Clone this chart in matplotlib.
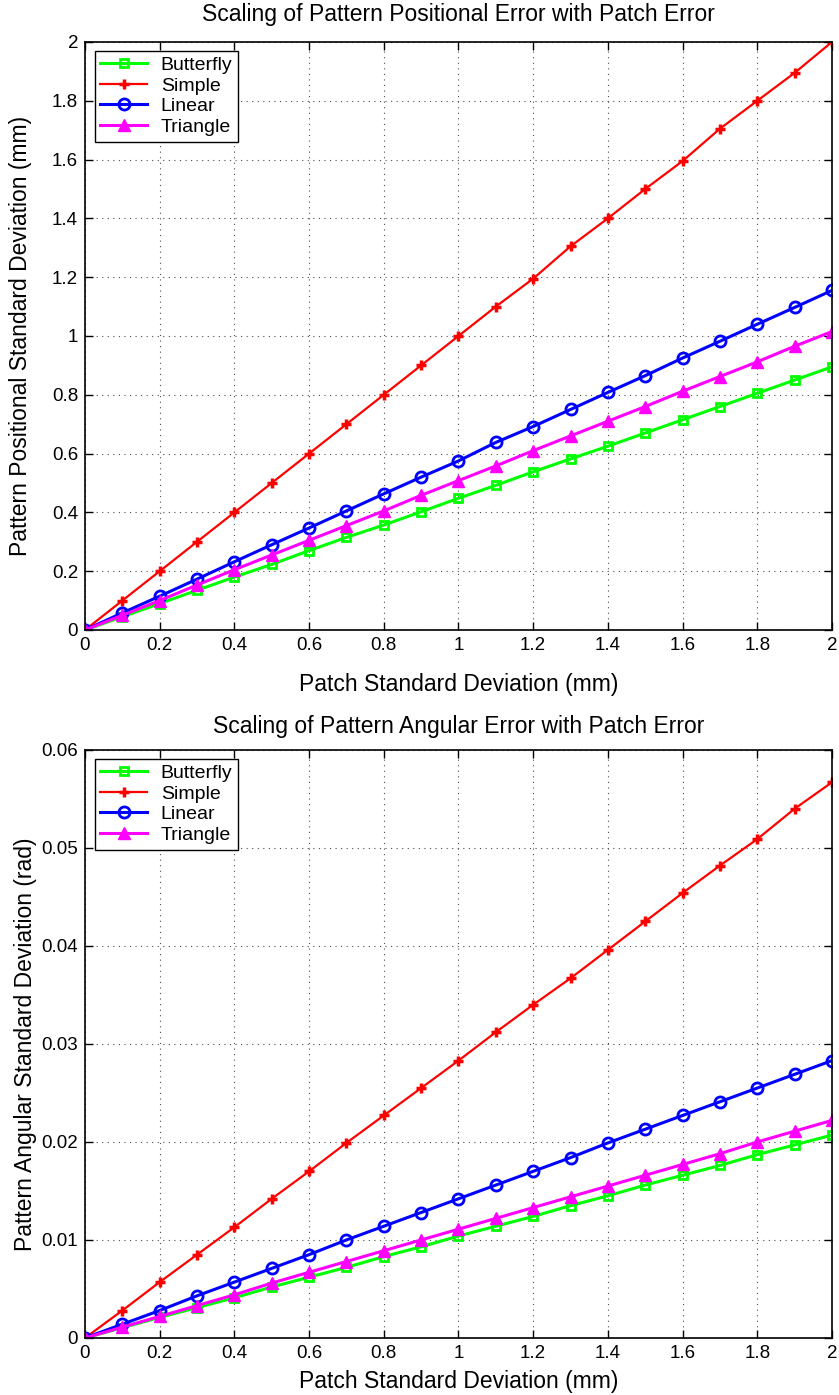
import numpy as np
import matplotlib
matplotlib.use("Agg")
import matplotlib.pyplot as plt

plt.rcParams['font.family'] = ['Liberation Sans', 'DejaVu Sans']
plt.rcParams['font.size'] = 13.5

# patch standard deviation (mm)
patch_sd = [0.0, 0.1, 0.2, 0.3, 0.4, 0.5, 0.6, 0.7, 0.8, 0.9, 1.0,
            1.1, 1.2, 1.3, 1.4, 1.5, 1.6, 1.7, 1.8, 1.9, 2.0]

# positional error (mm)
pos_butterfly = [0, 0.045, 0.09, 0.135, 0.18, 0.223, 0.27, 0.315, 0.357, 0.402, 0.448,
                 0.492, 0.538, 0.582, 0.625, 0.67, 0.715, 0.76, 0.805, 0.85, 0.895]
pos_simple = [0, 0.1, 0.2, 0.3, 0.4, 0.5, 0.6, 0.70, 0.80, 0.90, 1.0,
              1.10, 1.195, 1.305, 1.40, 1.50, 1.595, 1.705, 1.80, 1.895, 2.0]
pos_linear = [0, 0.058, 0.115, 0.173, 0.232, 0.29, 0.347, 0.405, 0.463, 0.52, 0.575,
              0.638, 0.692, 0.75, 0.808, 0.865, 0.925, 0.982, 1.04, 1.097, 1.155]
pos_triangle = [0, 0.05, 0.10, 0.153, 0.205, 0.255, 0.305, 0.355, 0.405, 0.458, 0.508,
                0.558, 0.61, 0.66, 0.71, 0.76, 0.812, 0.862, 0.912, 0.965, 1.015]

# angular error (rad)
ang_butterfly = [0, 0.00105, 0.0021, 0.0031, 0.0041, 0.0052, 0.0062, 0.0072, 0.0083, 0.0093, 0.0104,
                 0.0114, 0.0124, 0.0135, 0.0145, 0.0156, 0.0166, 0.0176, 0.0187, 0.0197, 0.0207]
ang_simple = [0, 0.0028, 0.0057, 0.0085, 0.0113, 0.0142, 0.017, 0.0199, 0.0227, 0.0255, 0.0283,
              0.0312, 0.034, 0.0367, 0.0396, 0.0425, 0.0454, 0.0482, 0.0509, 0.054, 0.0567]
ang_linear = [0, 0.0014, 0.0028, 0.0043, 0.0057, 0.0071, 0.0085, 0.0100, 0.0114, 0.0128, 0.0142,
              0.0156, 0.0170, 0.0184, 0.0199, 0.0213, 0.0227, 0.0241, 0.0255, 0.0269, 0.0283]
ang_triangle = [0, 0.0011, 0.0022, 0.0033, 0.0044, 0.0056, 0.0067, 0.0078, 0.0089, 0.0100, 0.0111,
                0.0122, 0.0133, 0.0144, 0.0155, 0.0166, 0.0177, 0.0188, 0.0200, 0.0211, 0.0222]

x_ticks = [0, 0.2, 0.4, 0.6, 0.8, 1, 1.2, 1.4, 1.6, 1.8, 2]
x_labels = ["0", "0.2", "0.4", "0.6", "0.8", "1", "1.2", "1.4", "1.6", "1.8", "2"]
pos_yticks = [0, 0.2, 0.4, 0.6, 0.8, 1, 1.2, 1.4, 1.6, 1.8, 2]
pos_ylabels = ["0", "0.2", "0.4", "0.6", "0.8", "1", "1.2", "1.4", "1.6", "1.8", "2"]
ang_yticks = [0, 0.01, 0.02, 0.03, 0.04, 0.05, 0.06]
ang_ylabels = ["0", "0.01", "0.02", "0.03", "0.04", "0.05", "0.06"]


def draw(ax, butterfly, simple, linear, triangle, yticks, ylabels, title, ylabel,
         xpad, ypad, tpad):
    ax.plot(patch_sd, butterfly, color='#00ff00', lw=2.2, marker='s', ms=6,
            mfc='none', mew=2, label='Butterfly')
    ax.plot(patch_sd, simple, color='#ff0000', lw=1.6, marker='+', ms=7,
            mew=2.5, label='Simple')
    ax.plot(patch_sd, linear, color='#0000ff', lw=2.2, marker='o', ms=8,
            mfc='none', mew=2, label='Linear')
    ax.plot(patch_sd, triangle, color='#ff00ff', lw=2.2, marker='^', ms=9,
            mew=1, label='Triangle')
    ax.set_xlim(0, 2)
    ax.set_ylim(yticks[0], yticks[-1])
    ax.set_xticks(x_ticks)
    ax.set_xticklabels(x_labels)
    ax.set_yticks(yticks)
    ax.set_yticklabels(ylabels)
    ax.tick_params(direction='in', top=True, right=True, length=6, width=1, pad=5)
    ax.grid(True, linestyle=(0, (1, 4)), color='0.3', lw=0.8)
    for s in ax.spines.values():
        s.set_linewidth(1.2)
    ax.set_title(title, fontsize=16.5, pad=tpad)
    ax.set_xlabel("Patch Standard Deviation (mm)", fontsize=16.5, labelpad=xpad)
    ax.set_ylabel(ylabel, fontsize=16.5, labelpad=ypad)
    leg = ax.legend(loc='upper left', bbox_to_anchor=(0.005, 0.995), fancybox=False,
                    edgecolor='black', framealpha=1, fontsize=14, handlelength=2.4,
                    borderpad=0.3, labelspacing=0.15, handletextpad=0.7, borderaxespad=0.3)
    leg.get_frame().set_linewidth(1.0)


fig = plt.figure(figsize=(8.39, 13.95), dpi=100)
ax1 = fig.add_axes([0.1013, 0.5484, 0.8903, 0.4215])
ax2 = fig.add_axes([0.1013, 0.0409, 0.8903, 0.4215])

draw(ax1, pos_butterfly, pos_simple, pos_linear, pos_triangle, pos_yticks, pos_ylabels,
     "Scaling of Pattern Positional Error with Patch Error",
     "Pattern Positional Standard Deviation (mm)", 14, 14, 15)
draw(ax2, ang_butterfly, ang_simple, ang_linear, ang_triangle, ang_yticks, ang_ylabels,
     "Scaling of Pattern Angular Error with Patch Error",
     "Pattern Angular Standard Deviation (rad)", 6, 3, 12)

fig.savefig("out.png", dpi=100)
